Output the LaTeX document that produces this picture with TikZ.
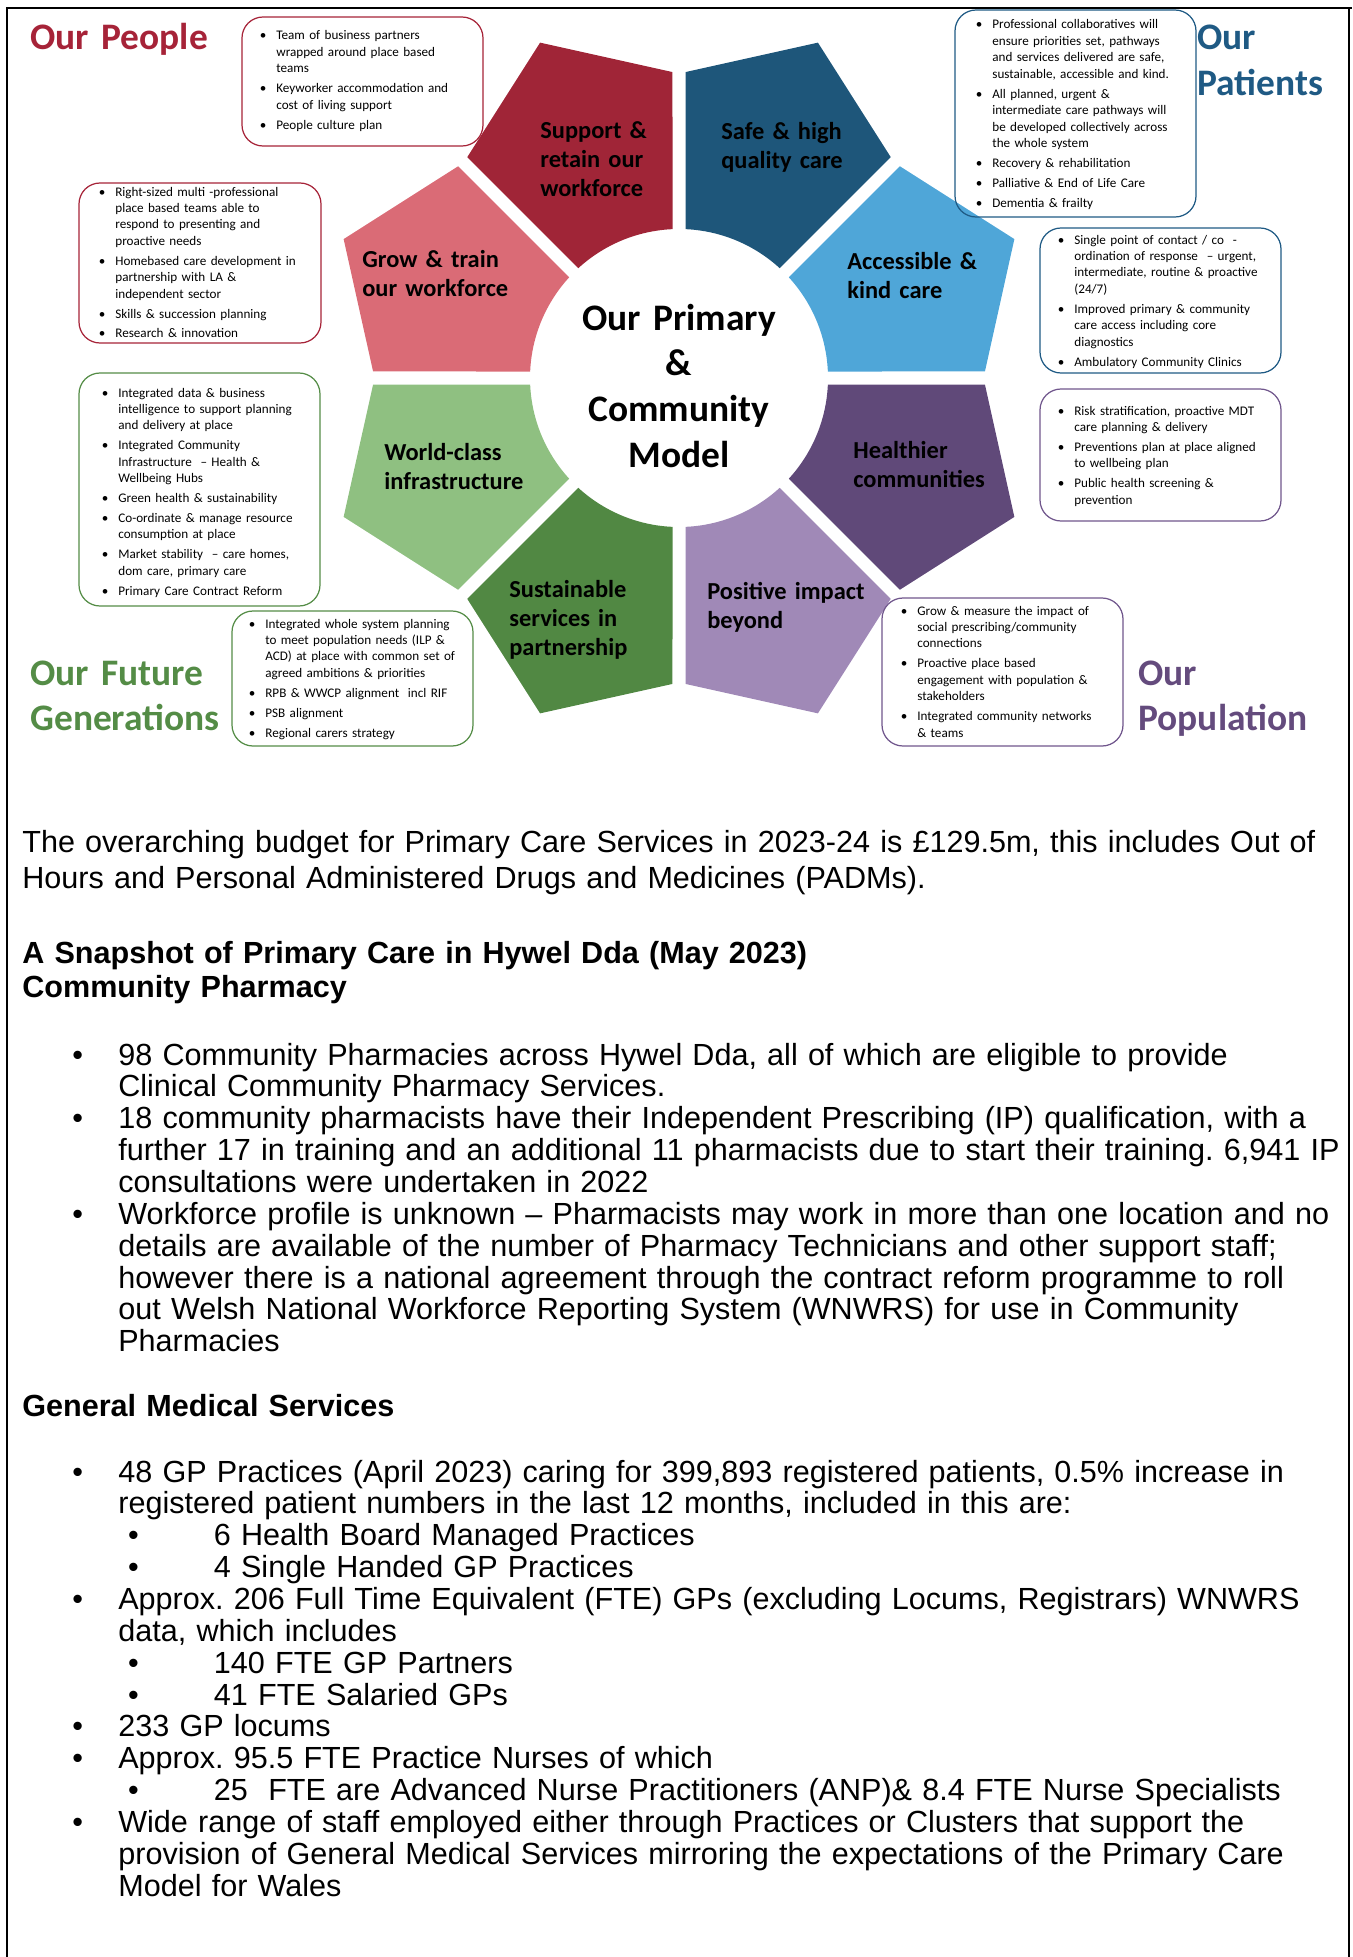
\documentclass[tikz,border=0pt]{standalone}
\usepackage{fontspec}
\setmainfont{Liberation Sans}
\newfontfamily\calib{Carlito}

\definecolor{supC}{RGB}{160,37,55}
\definecolor{safC}{RGB}{30,86,122}
\definecolor{accC}{RGB}{79,166,216}
\definecolor{hltC}{RGB}{96,73,121}
\definecolor{posC}{RGB}{160,137,183}
\definecolor{susC}{RGB}{81,136,67}
\definecolor{wldC}{RGB}{143,192,129}
\definecolor{grwC}{RGB}{218,107,118}
\definecolor{pplH}{RGB}{166,35,56}
\definecolor{patH}{RGB}{31,90,132}
\definecolor{futH}{RGB}{84,140,70}
\definecolor{popH}{RGB}{100,75,125}
\definecolor{popB}{RGB}{112,86,140}

\newcommand{\bb}{\leavevmode\llap{\makebox[9.35pt][l]{\textbullet}}}
\newcommand{\nx}{\par\vspace{2pt}}
\newcommand{\mb}{\leavevmode\llap{\makebox[26.1pt][l]{\textbullet}}}
\newcommand{\sbt}[1]{\leavevmode\hspace*{54.4pt}\llap{\makebox[48.8pt][l]{\textbullet}}#1}
\frenchspacing

\begin{document}
\begin{tikzpicture}[x=0.02cm, y=-0.02cm,
    petal/.style={fill=#1},
    lbl/.style={anchor=base west, inner sep=0pt, text width=4cm, align=left, font={\calib\bfseries\fontsize{13.9pt}{16.7pt}\selectfont}},
    mdl/.style={anchor=base, inner sep=0pt, text width=6cm, align=center, font={\calib\bfseries\fontsize{21.3pt}{26.1pt}\selectfont}},
    hd/.style={anchor=base west, inner sep=0pt, text width=6cm, align=left, text=#1, font={\calib\bfseries\fontsize{21.3pt}{26.1pt}\selectfont}},
    bx/.style={draw=#1, line width=0.7pt, rounded corners=0.42cm},
    btxt/.style={anchor=base west, inner sep=0pt, text width=6cm, align=left, font={\calib\fontsize{7.48pt}{9.35pt}\selectfont}},
    body/.style={anchor=base west, inner sep=0pt, text width=28cm, align=left, font={\fontsize{17.4pt}{18.14pt}\selectfont}},
    frm/.style={line width=1.1pt}
    ]
\useasboundingbox (0,0) rectangle (1352,1957);
\draw[frm] (7,1957) -- (7,8) -- (1352,8);
\draw[frm] (1349,8) -- (1349,1957);

\begin{scope}[shift={(679,378)}, yscale=-1]
\foreach \a/\c in {112.5/supC, 67.5/safC, 22.5/accC, -22.5/hltC, -67.5/posC, -112.5/susC, -157.5/wldC, 157.5/grwC}
  \fill[petal=\c] ({\a-20}:149) -- ({\a-21.28}:306) -- (\a:363) -- ({\a+21.28}:306) -- ({\a+20}:149) arc[start angle=\a+20, end angle=\a-20, radius=149] -- cycle;
\end{scope}

\node[lbl] at (540,138) (supL) {Support \&\\retain our\\workforce};
\node[lbl] at (721,139) (safL) {Safe \& high\\quality care};
\node[lbl] at (847,269) (accL) {Accessible \&\\kind care};
\node[lbl] at (853,458) (hltL) {Healthier\\communities};
\node[lbl] at (707,599) (posL) {Positive impact\\beyond};
\node[lbl] at (509,597) (susL) {Sustainable\\services in\\partnership};
\node[lbl] at (384,460) (wldL) {World-class\\infrastructure};
\node[lbl] at (362,267) (grwL) {Grow \& train\\our workforce};
\node[mdl] at (679,330) (mdlL) {Our Primary\\\&\\Community\\Model};

\node[hd=pplH] at (30,50) (pplT) {Our People};
\node[hd=patH] at (1197,50) (patT) {Our\\Patients};
\node[hd=futH] at (30,685) (futT) {Our Future\\Generations};
\node[hd=popH] at (1138,685) (popT) {Our\\Population};

\draw[bx=pplH] (242,17) rectangle (483,146);
\node[btxt] at (276,40) (pplA) {\bb Team of business partners\\wrapped around place based\\teams\nx
\bb Keyworker accommodation and\\cost of living support\nx
\bb People culture plan};
\draw[bx=pplH] (79,183) rectangle (321,343);
\node[btxt] at (115,196) (pplB) {\bb Right-sized multi -professional\\place based teams able to\\respond to presenting and\\proactive needs\nx
\bb Homebased care development in\\partnership with LA \&\\independent sector\nx
\bb Skills \& succession planning\nx
\bb Research \& innovation};
\draw[bx=futH] (79,373) rectangle (320,606);
\node[btxt] at (118,397) (futA) {\bb Integrated data \& business\\intelligence to support planning\\and delivery at place\nx
\bb Integrated Community\\Infrastructure \ – Health \&\\Wellbeing Hubs\nx
\bb Green health \& sustainability\nx
\bb Co-ordinate \& manage resource\\consumption at place\nx
\bb Market stability \ – care homes,\\dom care, primary care\nx
\bb Primary Care Contract Reform};
\draw[bx=futH] (232,611) rectangle (473,746);
\node[btxt] at (265,628) (futB) {\bb Integrated whole system planning\\to meet population needs (ILP \&\\ACD) at place with common set of\\agreed ambitions \& priorities\nx
\bb RPB \& WWCP alignment \ incl RIF\nx
\bb PSB alignment\nx
\bb Regional carers strategy};
\draw[bx=patH] (955,10) rectangle (1196,217);
\node[btxt] at (992,29) (patA) {\bb Professional collaboratives will\\ensure priorities set, pathways\\and services delivered are safe,\\sustainable, accessible and kind.\nx
\bb All planned, urgent \&\\intermediate care pathways will\\be developed collectively across\\the whole system\nx
\bb Recovery \& rehabilitation\nx
\bb Palliative \& End of Life Care\nx
\bb Dementia \& frailty};
\draw[bx=patH] (1040,228) rectangle (1281,373);
\node[btxt] at (1074,244) (patB) {\bb Single point of contact / co \ -\\ordination of response \ – urgent,\\intermediate, routine \& proactive\\(24/7)\nx
\bb Improved primary \& community\\care access including core\\diagnostics\nx
\bb Ambulatory Community Clinics};
\draw[bx=popB] (1040,389) rectangle (1281,521);
\node[btxt] at (1074,415) (popA) {\bb Risk stratification, proactive MDT\\care planning \& delivery\nx
\bb Preventions plan at place aligned\\to wellbeing plan\nx
\bb Public health screening \&\\prevention};
\draw[bx=popB] (882,598) rectangle (1123,746);
\node[btxt] at (917,615) (popB) {\bb Grow \& measure the impact of\\social prescribing/community\\connections\nx
\bb Proactive place based\\engagement with population \&\\stakeholders\nx
\bb Integrated community networks\\\& teams};

\node[body, font={\fontsize{17.4pt}{20.98pt}\selectfont}] at (22,852) (bdg) {The overarching budget for Primary Care Services in 2023-24 is £129.5m, this includes Out of\\Hours and Personal Administered Drugs and Medicines (PADMs).};
\node[body, font={\bfseries\fontsize{17.4pt}{19.85pt}\selectfont}] at (22,963) (snp) {A Snapshot of Primary Care in Hywel Dda (May 2023)\\Community Pharmacy};
\node[body] at (118,1065) (phm) {\mb 98 Community Pharmacies across Hywel Dda, all of which are eligible to provide\\Clinical Community Pharmacy Services.\par
\mb 18 community pharmacists have their Independent Prescribing (IP) qualification, with a\\further 17 in training and an additional 11 pharmacists due to start their training. 6,941 IP\\consultations were undertaken in 2022\par
\mb Workforce profile is unknown – Pharmacists may work in more than one location and no\\details are available of the number of Pharmacy Technicians and other support staff;\\however there is a national agreement through the contract reform programme to roll\\out Welsh National Workforce Reporting System (WNWRS) for use in Community\\Pharmacies};
\node[body, font={\bfseries\fontsize{17.4pt}{18.14pt}\selectfont}] at (22,1416) (gmsT) {General Medical Services};
\node[body] at (118,1482) (gms) {\mb 48 GP Practices (April 2023) caring for 399,893 registered patients, 0.5\% increase in\\registered patient numbers in the last 12 months, included in this are:\\\sbt{6 Health Board Managed Practices}\\\sbt{4 Single Handed GP Practices}\par
\mb Approx. 206 Full Time Equivalent (FTE) GPs (excluding Locums, Registrars) WNWRS\\data, which includes\\\sbt{140 FTE GP Partners}\\\sbt{41 FTE Salaried GPs}\par
\mb 233 GP locums\par
\mb Approx. 95.5 FTE Practice Nurses of which\\\sbt{25 \ FTE are Advanced Nurse Practitioners (ANP)\& 8.4 FTE Nurse Specialists}\par
\mb Wide range of staff employed either through Practices or Clusters that support the\\provision of General Medical Services mirroring the expectations of the Primary Care\\Model for Wales};
\end{tikzpicture}
\end{document}
